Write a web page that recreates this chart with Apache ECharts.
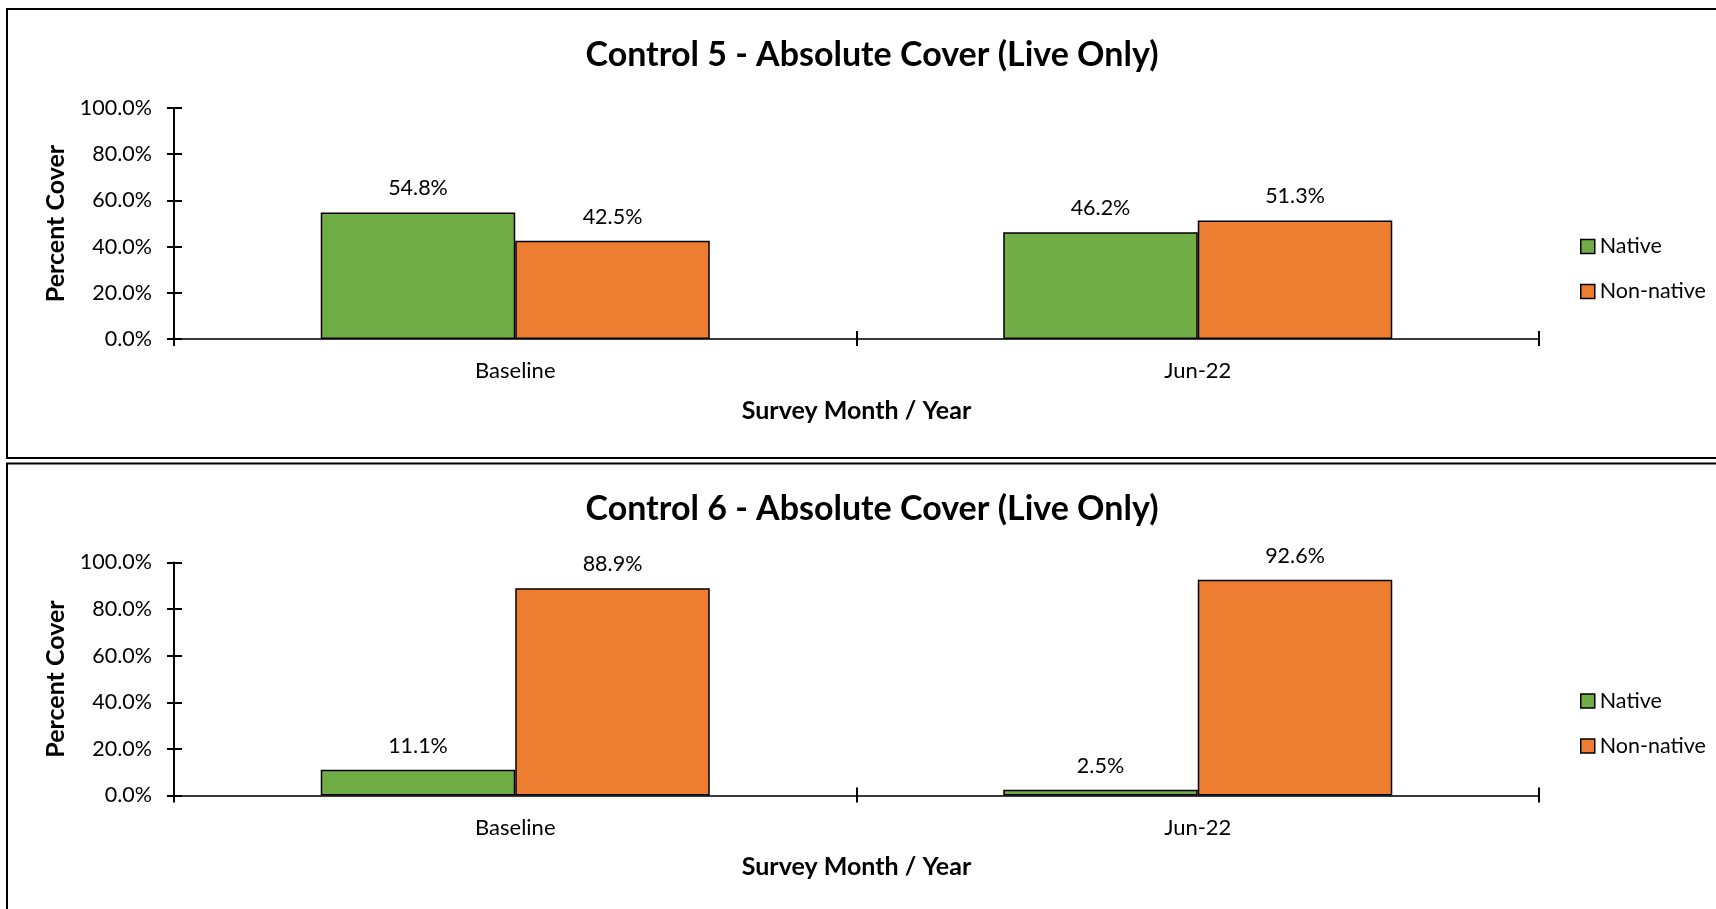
<!DOCTYPE html>
<html>
<head>
<meta charset="utf-8">
<title>Absolute Cover (Live Only)</title>
<script src="https://cdn.jsdelivr.net/npm/echarts@6/dist/echarts.min.js"></script>
<style>
  html, body { margin: 0; padding: 0; background: #fff; overflow: hidden; }
  #chart { width: 1716px; height: 909px; }
</style>
</head>
<body>
<div id="chart"></div>
<script>
// Survey periods on the category axis
const categories = ['Baseline', 'Jun-22'];
const seriesNames = ['Native', 'Non-native'];

// Control 5 absolute cover (%)
const control5Native = [54.8, 46.2];
const control5NonNative = [42.5, 51.3];

// Control 6 absolute cover (%)
const control6Native = [11.1, 2.5];
const control6NonNative = [88.9, 92.6];

const panelTitles = [
  'Control 5 - Absolute Cover (Live Only)',
  'Control 6 - Absolute Cover (Live Only)'
];

const FONT = 'Lato';
const GREEN = '#70AD47';
const ORANGE = '#ED7D31';
const PANEL_OFFSET = 454.5;

const chart = echarts.init(document.getElementById('chart'), null, { renderer: 'canvas' });

const pct = v => Number(v).toFixed(1) + '%';

const titles = [], grids = [], xAxes = [], yAxes = [], legends = [], series = [], graphics = [];

const panels = [
  { native: control5Native, nonNative: control5NonNative },
  { native: control6Native, nonNative: control6NonNative }
];

panels.forEach((p, i) => {
  const dy = i * PANEL_OFFSET;

  titles.push({
    text: panelTitles[i],
    left: 867,
    textAlign: 'center',
    top: 33 + dy,
    textStyle: { fontFamily: FONT, fontWeight: 'bold', fontSize: 34, color: '#000' }
  });

  grids.push({ left: 174, width: 1365, top: 108 + dy, height: 231 + 2 * i });

  // main category axis: line, outward ticks, labels, name
  xAxes.push({
    type: 'category', gridIndex: i, data: categories, position: 'bottom',
    boundaryGap: true,
    axisLine: { lineStyle: { color: '#3a3a3a', width: 2 } },
    axisTick: { show: true, length: 7, lineStyle: { color: '#000', width: 2 } },
    axisLabel: { fontFamily: FONT, fontSize: 22, color: '#000', margin: 21 },
    name: 'Survey Month / Year', nameLocation: 'middle', nameGap: 59,
    nameTextStyle: { fontFamily: FONT, fontWeight: 'bold', fontSize: 25, color: '#000' }
  });
  // companion axis carrying the inward half of the crossing ticks
  xAxes.push({
    type: 'category', gridIndex: i, data: categories, position: 'bottom',
    boundaryGap: true,
    axisLine: { show: false },
    axisTick: { show: true, inside: true, length: 8, lineStyle: { color: '#000', width: 2 } },
    axisLabel: { show: false }
  });

  yAxes.push({
    type: 'value', gridIndex: i, min: 0, max: 100, interval: 20, position: 'left',
    splitLine: { show: false },
    axisLine: { show: true, lineStyle: { color: '#000', width: 2 } },
    axisTick: { show: true, length: 7, lineStyle: { color: '#000', width: 2 } },
    axisLabel: { fontFamily: FONT, fontSize: 21.5, color: '#000', margin: 22, formatter: pct },
    name: 'Percent Cover', nameLocation: 'middle', nameGap: 102, nameRotate: 90,
    nameTextStyle: { fontFamily: FONT, fontWeight: 'bold', fontSize: 25, color: '#000' }
  });
  yAxes.push({
    type: 'value', gridIndex: i, min: 0, max: 100, interval: 20, position: 'left',
    splitLine: { show: false },
    axisLine: { show: false },
    axisTick: { show: true, inside: true, length: 8, lineStyle: { color: '#000', width: 2 } },
    axisLabel: { show: false }
  });

  legends.push({
    orient: 'vertical', left: 1580, top: 235.5 + dy, padding: 0,
    data: seriesNames, icon: 'rect', itemWidth: 14, itemHeight: 14, itemGap: 23,
    selectedMode: false,
    itemStyle: { borderColor: '#000', borderWidth: 1.5 },
    textStyle: { fontFamily: FONT, fontSize: 21.5, color: '#000', lineHeight: 22 }
  });

  const barLabel = {
    show: true, position: 'top', distance: 13,
    fontFamily: FONT, fontSize: 21.5, color: '#000',
    formatter: d => pct(d.value)
  };

  [[p.native, GREEN, seriesNames[0]], [p.nonNative, ORANGE, seriesNames[1]]].forEach(([vals, color, name]) => {
    series.push({
      type: 'bar', name, xAxisIndex: i * 2, yAxisIndex: i * 2,
      data: vals,
      barCategoryGap: '43%', barGap: '0%',
      itemStyle: { color, borderColor: '#000', borderWidth: 1.5 },
      label: barLabel,
      z: 1
    });
  });

  // panel frame
  graphics.push({
    type: 'rect', silent: true,
    shape: { x: 7, y: 9 + dy, width: 1760, height: 449 + (i === 1 ? 60 : 0) },
    style: { fill: 'none', stroke: '#000', lineWidth: 2 }
  });
});

chart.setOption({
  backgroundColor: '#fff',
  animation: false,
  title: titles,
  grid: grids,
  xAxis: xAxes,
  yAxis: yAxes,
  legend: legends,
  series,
  graphic: graphics
});
</script>
</body>
</html>
